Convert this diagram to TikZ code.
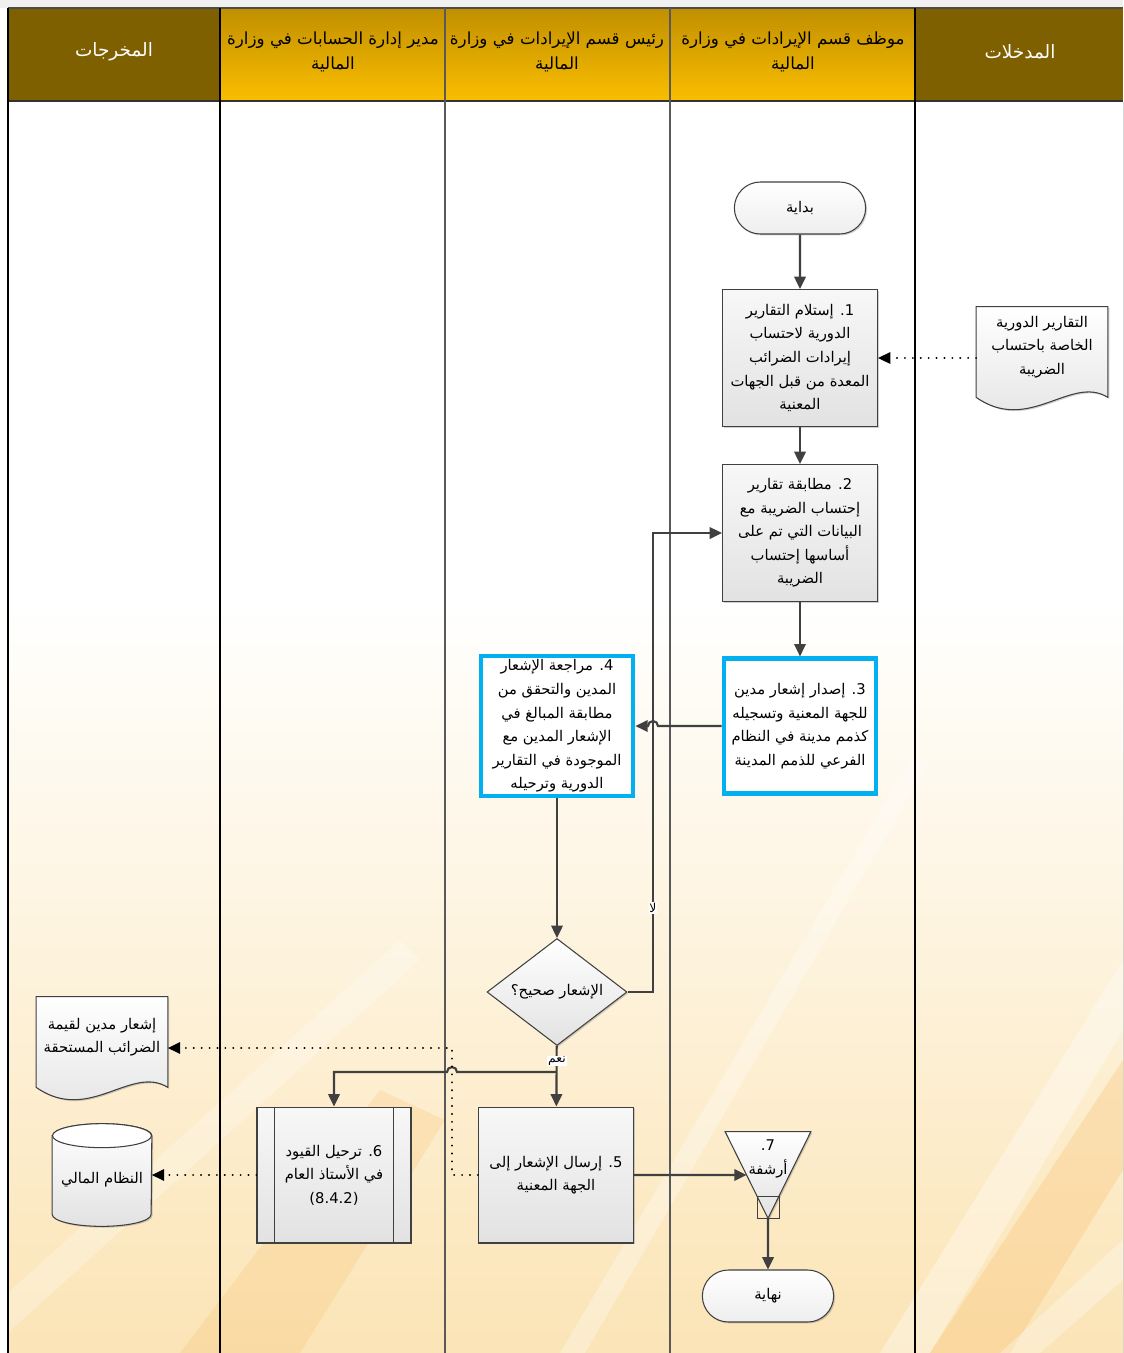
\documentclass[tikz,border=0pt]{standalone}
\usepackage{fontspec}
\newfontfamily\arabicfont[Script=Arabic]{DejaVu Sans}
\TeXXeTstate=1
\usetikzlibrary{shapes.geometric,shapes.misc,arrows.meta,calc,shadows}

\definecolor{lanebrown}{HTML}{7F6000}
\definecolor{goldtop}{HTML}{C08F00}
\definecolor{goldbot}{HTML}{FABE00}
\definecolor{linegrey}{HTML}{404040}
\definecolor{procblue}{HTML}{00B0F0}
\definecolor{bgwarm}{HTML}{F6CC7E}
\definecolor{bgmid}{HTML}{FCE9C2}
\definecolor{boxgrey}{HTML}{E2E2E2}

\pgfdeclareverticalshading{bodybg}{100bp}{color(0bp)=(bgwarm); color(30bp)=(bgmid); color(55bp)=(white); color(100bp)=(white)}

\newcommand{\artxt}[1]{\beginR #1\endR}

\tikzset{
  arfont/.style={font=\arabicfont\fontsize{8.4}{13.4}\selectfont},
  flow/.style={draw=linegrey, line width=1.2pt, -{Triangle[length=7pt,width=6.5pt]}},
  dotflow/.style={draw=black, line width=1.1pt, dash pattern=on 0.1pt off 4.4pt, line cap=round,
    -{Triangle[length=7pt,width=6.5pt,line cap=butt]}},
  shade/.style={drop shadow={shadow xshift=0.8pt,shadow yshift=-0.8pt,opacity=0.3,fill=black!60}},
  term/.style={rounded rectangle, draw=linegrey, line width=0.6pt, top color=white, bottom color=boxgrey!60,
    minimum width=2.86cm, minimum height=1.04cm, arfont, shade},
  proc/.style={rectangle, draw=linegrey, line width=0.6pt, top color=white!97!black, bottom color=boxgrey,
    minimum width=3.1cm, minimum height=2.74cm, align=center, arfont, inner sep=2pt, shade},
  blueproc/.style={rectangle, draw=procblue, line width=2.4pt, fill=white,
    minimum width=3.05cm, minimum height=2.7cm, align=center, arfont, inner sep=2pt, shade},
  decide/.style={diamond, draw=linegrey, line width=0.6pt, top color=white, bottom color=boxgrey,
    minimum width=2.8cm, minimum height=2.04cm, inner sep=0pt, arfont, shade},
  docbox/.style={rectangle, minimum width=2.62cm, minimum height=1.8cm, align=center, arfont},
  shapeline/.style={draw=linegrey, line width=0.6pt, top color=white, bottom color=boxgrey},
  lanehead/.style={align=center, font=\arabicfont\fontsize{9.5}{14.5}\selectfont},
  branch/.style={fill=white, inner sep=0.5pt, font=\arabicfont\fontsize{7}{8}\selectfont}
}

\begin{document}
\begin{tikzpicture}[x=0.02cm, y=-0.02cm]
\useasboundingbox (0,0) rectangle (1123,1353);
% background
\fill[white] (0,0) rectangle (1123,1353);
\fill[black!6] (0,0) rectangle (1123,8);
\shade[shading=bodybg] (8,101) rectangle (1123,1353);
\begin{scope}
\clip (8,101) rectangle (1123,1353);
\fill[white, opacity=0.35] (880,1353) -- (930,1353) -- (1123,1030) -- (1123,960) -- cycle;
\fill[white, opacity=0.3] (560,1353) -- (585,1353) -- (930,760) -- (910,760) -- cycle;
\fill[white, opacity=0.25] (0,1300) -- (0,1340) -- (420,960) -- (400,940) -- cycle;
\fill[bgwarm!70!orange, opacity=0.25] (930,1353) -- (1010,1353) -- (1123,1170) -- (1123,1060) -- cycle;
\fill[bgwarm!70!orange, opacity=0.2] (180,1353) -- (300,1353) -- (445,1120) -- (380,1090) -- cycle;
\fill[white, opacity=0.3] (1000,1353) -- (1123,1240) -- (1123,1280) -- (1040,1353) -- cycle;
\end{scope}

% lane headers
\fill[lanebrown] (8,8) rectangle (220,101);
\fill[lanebrown] (915,8) rectangle (1123,101);
\shade[top color=goldtop, bottom color=goldbot] (220,8) rectangle (915,101);
\draw[black!70, line width=1pt] (8,8) -- (1123,8);
\draw[black!80, line width=1pt] (8,101) -- (1123,101);
\draw[black, line width=1pt] (8,8) -- (8,1353);
\draw[black, line width=1pt] (220,8) -- (220,1353);
\draw[black!65, line width=1pt] (445,8) -- (445,1353);
\draw[black!65, line width=1pt] (670,8) -- (670,1353);
\draw[black, line width=1pt] (915,8) -- (915,1353);

\node[lanehead, text=white, font=\arabicfont\fontsize{10.5}{14}\selectfont] (hout) at (114,52) {\artxt{المخرجات}};
\node[lanehead] (hacc) at (333,52) {\artxt{مدير إدارة الحسابات في وزارة}\\\artxt{المالية}};
\node[lanehead] (hhead) at (557,52) {\artxt{رئيس قسم الإيرادات في وزارة}\\\artxt{المالية}};
\node[lanehead] (hemp) at (793,52) {\artxt{موظف قسم الإيرادات في وزارة}\\\artxt{المالية}};
\node[lanehead, text=white, font=\arabicfont\fontsize{10.5}{14}\selectfont] (hin) at (1020,52) {\artxt{المدخلات}};

% steps
\node[term] (start) at (800,208) {\artxt{بداية}};
\node[proc] (n1) at (800,358) {\artxt{1. إستلام التقارير}\\\artxt{الدورية لاحتساب}\\\artxt{إيرادات الضرائب}\\\artxt{المعدة من قبل الجهات}\\\artxt{المعنية}};
\node[proc] (n2) at (800,533) {\artxt{2. مطابقة تقارير}\\\artxt{إحتساب الضريبة مع}\\\artxt{البيانات التي تم على}\\\artxt{أساسها إحتساب}\\\artxt{الضريبة}};
\node[blueproc] (n3) at (800,726) {\artxt{3. إصدار إشعار مدين}\\\artxt{للجهة المعنية وتسجيله}\\\artxt{كذمم مدينة في النظام}\\\artxt{الفرعي للذمم المدينة}};
\node[blueproc] (n4) at (557,726) {\artxt{4. مراجعة الإشعار}\\\artxt{المدين والتحقق من}\\\artxt{مطابقة المبالغ في}\\\artxt{الإشعار المدين مع}\\\artxt{الموجودة في التقارير}\\\artxt{الدورية وترحيله}};
\node[decide] (dec) at (557,992) {\artxt{الإشعار صحيح؟}};
\node[proc, minimum height=2.72cm] (n5) at (556,1175) {\artxt{5. إرسال الإشعار إلى}\\\artxt{الجهة المعنية}};
\node[proc, minimum width=3.08cm, minimum height=2.72cm] (n6) at (334,1175) {\artxt{6. ترحيل القيود}\\\artxt{في الأستاذ العام}\\(8.4.2)};
\draw[linegrey, line width=0.6pt] ([xshift=0.36cm]n6.north west) -- ([xshift=0.36cm]n6.south west)
  ([xshift=-0.36cm]n6.north east) -- ([xshift=-0.36cm]n6.south east);

% archive
\node[minimum width=1.7cm, minimum height=1.72cm] (arch) at (768,1175) {};
\filldraw[shapeline, shade] (arch.north west) -- (arch.north east) -- (arch.south) -- cycle;
\draw[linegrey, line width=0.5pt] ([xshift=-0.22cm]arch.south) rectangle ([xshift=0.22cm,yshift=0.44cm]arch.south);
\node[arfont, align=center] (archtxt) at ([yshift=0.32cm]arch.center) {7.\\\artxt{أرشفة}};
\node[term] (end) at (768,1296) {\artxt{نهاية}};

% inputs and outputs
\node[docbox] (in1) at (1042,352) {};
\filldraw[shapeline, shade] (in1.north west) -- (in1.north east) -- (in1.south east)
  .. controls ($(in1.south east)+(-37,-23)$) and ($(in1.south west)+(53,37)$) .. (in1.south west) -- cycle;
\node[arfont, align=center] at ([yshift=0.1cm]in1.center) {\artxt{التقارير الدورية}\\\artxt{الخاصة باحتساب}\\\artxt{الضريبة}};

\node[docbox] (out1) at (102,1042) {};
\filldraw[shapeline, shade] (out1.north west) -- (out1.north east) -- (out1.south east)
  .. controls ($(out1.south east)+(-37,-23)$) and ($(out1.south west)+(53,37)$) .. (out1.south west) -- cycle;
\node[arfont, align=center] at ([yshift=0.1cm]out1.center) {\artxt{إشعار مدين لقيمة}\\\artxt{الضرائب المستحقة}};

\node[minimum width=1.98cm, minimum height=2.04cm] (db) at (102,1175) {};
\filldraw[shapeline, shade] ([yshift=-0.24cm]db.north west) -- ([yshift=0.24cm]db.south west)
  arc[start angle=180, end angle=360, x radius=0.99cm, y radius=0.24cm]
  -- ([yshift=-0.24cm]db.north east)
  arc[start angle=0, end angle=180, x radius=0.99cm, y radius=0.24cm] -- cycle;
\draw[linegrey, line width=0.6pt, fill=white] ([yshift=-0.24cm]db.north) ellipse [x radius=0.99cm, y radius=0.24cm];
\node[arfont] at ([yshift=-0.1cm]db.center) {\artxt{النظام المالي}};

% connectors
\coordinate (loop) at ($(n2.west)+(-69,0)$);
\coordinate (yesj) at ($(dec.south)!0.43!(n5.north)$);
\coordinate (dotc) at (452,1048);
\draw[flow] (start) -- (n1);
\draw[flow] (n1) -- (n2);
\draw[flow] (n2) -- (n3);
\draw[flow] (n3.west) -- ($(n3.west -| loop)+(5,0)$)
  arc[start angle=0, end angle=180, radius=0.1cm] -- (n4.east);
\draw[flow] (n4) -- (dec);
\draw[flow] (dec.east) -| (loop) -- (n2.west);
\node[branch] (no) at ($(loop |- dec.east)+(0,-84)$) {\artxt{لا}};
\draw[flow] (dec) -- (n5);
\draw[flow] (yesj) -- ($(yesj -| dotc)+(5,0)$)
  arc[start angle=0, end angle=180, radius=0.1cm] -| (n6.north);
\node[branch] (yes) at ($(dec.south)+(0,15)$) {\artxt{نعم}};
\draw[flow] (n5.east) -- ($(arch.north west)!0.5!(arch.south)$);
\draw[flow] (arch.south) -- (end);
\draw[dotflow] (in1.west |- n1.east) -- (n1.east);
\draw[dotflow] (n5.west) -| (dotc) -- (dotc -| out1.east);
\draw[dotflow] (n6.west) -- (db.east);
\end{tikzpicture}
\end{document}
